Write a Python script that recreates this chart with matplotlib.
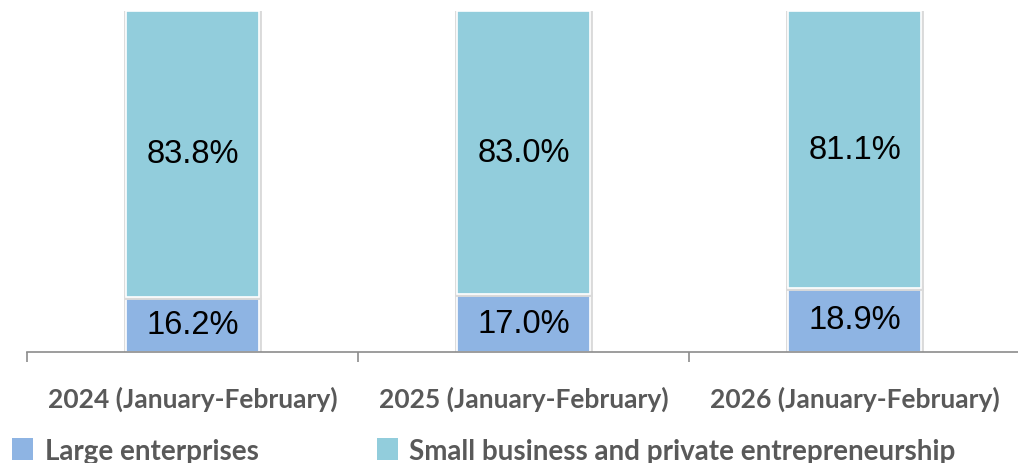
import numpy as np
import matplotlib
matplotlib.use('Agg')
import matplotlib.pyplot as plt
import matplotlib.patheffects as pe
from matplotlib.patches import Patch

categories = ['2024 (January-February)', '2025 (January-February)', '2026 (January-February)']
large = [16.2, 17.0, 18.9]
small = [83.8, 83.0, 81.1]
series_names = ['Large enterprises', 'Small business and private entrepreneurship']

c_large = '#8EB4E3'
c_small = '#92CDDC'
label_gray = '#595959'
axis_gray = '#8C8C8C'

fig = plt.figure(figsize=(10.18, 4.64), dpi=100)
ax = fig.add_axes([27 / 1018, 1 - 353 / 464, 993 / 1018, 341 / 464])

x = np.arange(len(categories))
shadow = [pe.Stroke(linewidth=3.5, foreground='#DADADA'), pe.Normal()]
b1 = ax.bar(x, large, width=0.4, color=c_large, edgecolor='white', linewidth=1.2)
b2 = ax.bar(x, small, width=0.4, bottom=large, color=c_small, edgecolor='white', linewidth=1.2)
for b in list(b1) + list(b2):
    b.set_path_effects(shadow)

for i in range(len(x)):
    ax.text(x[i], large[i] / 2, f'{large[i]:.1f}%', ha='center', va='center',
            fontsize=23.5, family='Liberation Sans', color='black')
    ax.text(x[i], large[i] + small[i] / 2, f'{small[i]:.1f}%', ha='center', va='center',
            fontsize=23.5, family='Liberation Sans', color='black')

ax.set_xlim(-0.5, 2.5)
ax.set_ylim(0, 100)
for s in ['top', 'right', 'left']:
    ax.spines[s].set_visible(False)
ax.spines['bottom'].set_color(axis_gray)
ax.spines['bottom'].set_linewidth(1.2)
ax.set_yticks([])
ax.set_xticks([-0.5, 0.5, 1.5, 2.5])
ax.set_xticklabels([])
ax.tick_params(axis='x', length=7, width=1.2, color=axis_gray, direction='out')
for i, c in enumerate(categories):
    ax.text(x[i], -13.5, c, ha='center', va='center', fontsize=19,
            family='Lato', weight='bold', color=label_gray)

handles = [Patch(facecolor=c_large, edgecolor='none'), Patch(facecolor=c_small, edgecolor='none')]
leg = fig.legend(handles, series_names, loc='center left', bbox_to_anchor=(0.0118, 1 - 452 / 464),
                 ncol=2, frameon=False, handlelength=0.75, handleheight=0.85, handletextpad=0.43,
                 columnspacing=4.25, borderaxespad=0, borderpad=0,
                 prop={'family': 'Lato', 'weight': 'bold', 'size': 20})
for t in leg.get_texts():
    t.set_color(label_gray)

fig.savefig('out.png', dpi=100)
